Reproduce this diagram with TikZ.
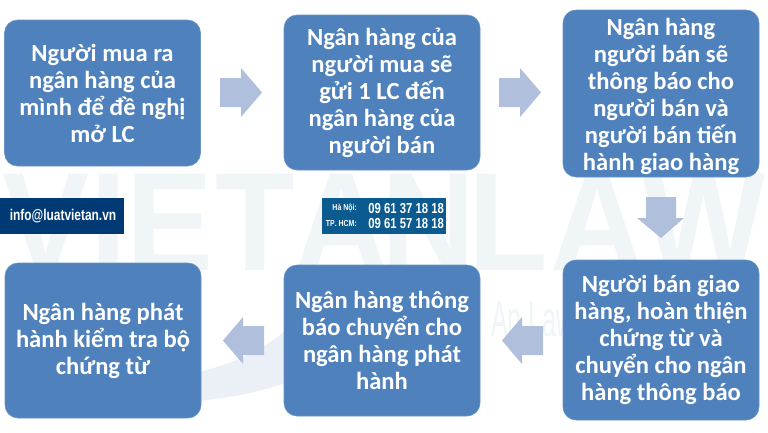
\documentclass[tikz,border=0pt]{standalone}
\usepackage{fontspec}
\setmainfont{Carlito}
\newfontfamily\wmfont[Kerning=Off]{Liberation Sans}
\definecolor{boxblue}{HTML}{4F81BD}
\definecolor{arrowblue}{HTML}{B0C0DC}
\definecolor{wmark}{HTML}{F0F5F7}
\definecolor{swoosh}{HTML}{EBF0F6}
\definecolor{navy}{HTML}{003A75}
\definecolor{phoneblue}{HTML}{0B5A90}
\tikzset{
  flowbox/.style={fill=boxblue,draw=boxblue!85!white,line width=.6pt,rounded corners=13pt,align=center,text=white,
    font=\fontsize{24.6}{27}\selectfont\bfseries,inner sep=0pt,minimum width=196pt},
  blockarrow/.style={fill=arrowblue,draw=none},
  watermark/.style={text=wmark,inner sep=0pt,font=\wmfont\bfseries\fontsize{140}{140}\selectfont},
  contact/.style={text=white,inner sep=0pt},
  phonetext/.style={contact,anchor=east,xscale=.78,font=\wmfont\bfseries\fontsize{14.5}{14.5}\selectfont},
  citytext/.style={contact,anchor=east,xscale=.8,font=\wmfont\bfseries\fontsize{8.7}{8.7}\selectfont},
}
\begin{document}
\begin{tikzpicture}[x=1pt,y=-1pt]
\useasboundingbox (0,0) rectangle (768,432);
\fill[white] (0,0) rectangle (768,432);
% watermark
\node[watermark,xscale=.93,anchor=west] (wm) at (2,222) {V\kern1.5pt I\kern0pt E\kern2pt T\kern0pt A\kern-7.5pt N\kern-8.5pt L\kern3pt A\kern-2pt W};
\fill[swoosh] (195,373) .. controls (225,366) and (258,354) .. (285,331) -- (285,383) .. controls (260,392) and (230,398) .. (195,401) -- cycle;
\node[text=wmark,inner sep=0pt,xscale=.5,anchor=west,font=\wmfont\fontsize{50}{50}\selectfont] (wm2) at (491,320) {An Law};
% boxes
\node[flowbox,minimum height=146pt] (b1) at (102.5,93) {Người mua ra\\ngân hàng của\\mình để đề nghị\\mở LC};
\node[flowbox,minimum height=155pt] (b2) at (382,92.5) {Ngân hàng của\\người mua sẽ\\gửi 1 LC đến\\ngân hàng của\\người bán};
\node[flowbox,minimum height=167pt] (b3) at (661,93.5) {\rule{0pt}{23pt}Ngân hàng\\người bán sẽ\\thông báo cho\\người bán và\\người bán tiến\\hành giao hàng};
\node[flowbox,minimum height=160pt] (b4) at (661,340) {Người bán giao\\hàng, hoàn thiện\\chứng từ và\\chuyển cho ngân\\hàng thông báo};
\node[flowbox,minimum height=151pt] (b5) at (382,340.5) {Ngân hàng thông\\báo chuyển cho\\ngân hàng phát\\hành};
\node[flowbox,minimum height=155pt] (b6) at (103,340.5) {Ngân hàng phát\\hành kiểm tra bộ\\chứng từ};
% block arrows
\fill[blockarrow] (220,78)--(241,78)--(241,68)--(262,92.5)--(241,117)--(241,107)--(220,107)--cycle;
\fill[blockarrow] (499,78)--(520,78)--(520,68)--(541,92.5)--(520,117)--(520,107)--(499,107)--cycle;
\fill[blockarrow] (646,197)--(676,197)--(676,218)--(684,218)--(661,238)--(637,218)--(646,218)--cycle;
\fill[blockarrow] (543,326)--(522,326)--(522,317)--(502,340.5)--(522,364)--(522,355)--(543,355)--cycle;
\fill[blockarrow] (264,326)--(243,326)--(243,317)--(223,340.5)--(243,364)--(243,355)--(264,355)--cycle;
% contact panels
\fill[navy] (0,198) rectangle (124,234);
\node[contact,xscale=.77,font=\wmfont\bfseries\fontsize{15.5}{15.5}\selectfont] (mail) at (63,216) {info@luatvietan.vn};
\fill[phoneblue] (322,198) rectangle (446,234);
\node[citytext] (hn) at (357,208.5) {Hà Nội:};
\node[citytext] (hcm) at (357,223.5) {TP. HCM:};
\node[phonetext] (p1) at (444,208.5) {09 61 37 18 18};
\node[phonetext] (p2) at (444,223.5) {09 61 57 18 18};
\end{tikzpicture}
\end{document}
